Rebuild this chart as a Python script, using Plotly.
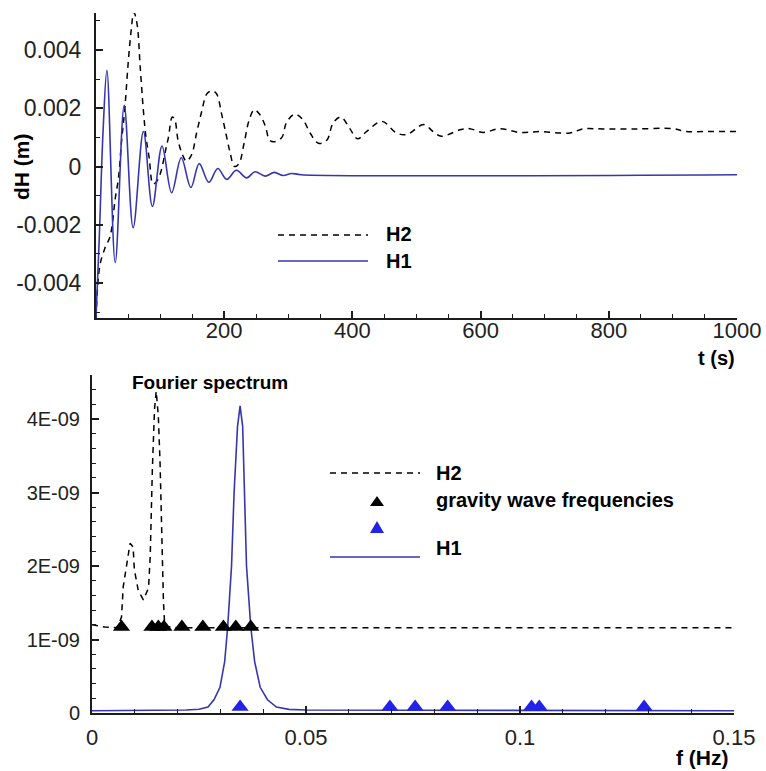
import plotly.graph_objects as go

# ---- water-level response at the two gauges (time in s, dH in m) ----
t_h1 = [0, 5, 11, 17, 30, 44, 58, 74, 88, 103, 118, 133, 148, 161, 176, 190,
        204, 219, 235, 248, 264, 278, 292, 305, 320, 1000]
dh_h1 = [-0.0052, -0.0025, 0.0012, 0.0033, -0.0033, 0.0021, -0.0021, 0.0012,
         -0.00137, 0.0007, -0.0009, 0.0003, -0.00072, 0.0001, -0.00054, -0.00007,
         -0.00044, -0.00013, -0.00039, -0.00018, -0.00033, -0.0002, -0.00031,
         -0.00024, -0.00028, -0.00028]

t_h2 = [0, 6, 14, 22, 30, 35, 40, 45, 50, 55, 59, 64, 69, 74, 78, 83, 89, 95,
        101, 108, 113, 119, 123, 128, 135, 141, 149, 157, 165, 173, 181, 188,
        196, 203, 209, 216, 223, 231, 239, 247, 255, 264, 271, 278, 290, 297,
        310, 323, 334, 347, 360, 370, 382, 396, 408, 422, 446, 469, 485, 511,
        526, 539, 568, 583, 604, 630, 661, 693, 739, 760, 791, 843, 900, 921,
        947, 1000]
dh_h2 = [-0.0052, -0.0034, -0.0028, -0.0024, -0.0011, -0.0004, 0.0009, 0.0020,
         0.0035, 0.0047, 0.0053, 0.0049, 0.0034, 0.0019, 0.0010, 0.0003, -0.0006,
         -0.0005, -0.0002, 0.0005, 0.0010, 0.0017, 0.0016, 0.0009, 0.0004,
         0.00018, 0.0004, 0.00116, 0.0019, 0.0025, 0.0026, 0.0025, 0.0018,
         0.0011, 0.0005, 0.0, 0.0001, 0.0008, 0.0016, 0.00195, 0.0018, 0.0014,
         0.0009, 0.00085, 0.0010, 0.0015, 0.0018, 0.0016, 0.00115, 0.0008,
         0.0009, 0.0015, 0.0017, 0.0013, 0.00095, 0.0012, 0.00155, 0.00115,
         0.0011, 0.00144, 0.0012, 0.00104, 0.00126, 0.0013, 0.00117, 0.0013,
         0.00117, 0.0012, 0.00115, 0.00129, 0.00129, 0.00129, 0.0013, 0.0012,
         0.0012, 0.0012]

# ---- Fourier spectra (f in Hz) ----
f_h2 = [0, 0.003, 0.006, 0.0069, 0.0073, 0.0081, 0.0089, 0.0096, 0.0099,
        0.0108, 0.012, 0.0132, 0.0136, 0.0141, 0.0146, 0.015, 0.0155, 0.0159,
        0.0163, 0.0167, 0.0170, 0.02, 0.15]
s_h2 = [1.2e-9, 1.17e-9, 1.16e-9, 1.31e-9, 1.72e-9, 2.0e-9, 2.31e-9, 2.26e-9,
        1.95e-9, 1.67e-9, 1.54e-9, 1.70e-9, 2.13e-9, 3.31e-9, 4.13e-9, 4.38e-9,
        4.04e-9, 3.41e-9, 2.4e-9, 1.5e-9, 1.18e-9, 1.16e-9, 1.16e-9]

f_h1 = [0, 0.015, 0.022, 0.025, 0.0271, 0.0285, 0.0299, 0.0310, 0.0317,
        0.0326, 0.0332, 0.0340, 0.0346, 0.0352, 0.0357, 0.0361, 0.0371, 0.0380,
        0.0393, 0.041, 0.0431, 0.046, 0.05, 0.1, 0.15]
s_h1 = [0.03e-9, 0.03e-9, 0.04e-9, 0.05e-9, 0.08e-9, 0.18e-9, 0.35e-9,
        0.7e-9, 1.17e-9, 2.0e-9, 3.0e-9, 3.9e-9, 4.18e-9, 3.9e-9, 3.0e-9,
        2.0e-9, 1.17e-9, 0.7e-9, 0.35e-9, 0.18e-9, 0.08e-9, 0.05e-9, 0.04e-9,
        0.03e-9, 0.03e-9]

# gravity wave frequencies (markers)
gw_f_black = [0.0069, 0.0140, 0.0155, 0.0168, 0.0210, 0.0259, 0.0307, 0.0336, 0.0371]
gw_y_black = [1.17e-9] * len(gw_f_black)
gw_f_blue = [0.0346, 0.0696, 0.0755, 0.0831, 0.1027, 0.1045, 0.129]
gw_y_blue = [0.08e-9] * len(gw_f_blue)

# tick labels
t_ticks = [0, 200, 400, 600, 800, 1000]
t_ticktext = ["", "200", "400", "600", "800", "1000"]
dh_ticks = [-0.004, -0.002, 0, 0.002, 0.004]
dh_ticktext = ["-0.004", "-0.002", "0", "0.002", "0.004"]
f_ticks = [0, 0.05, 0.1, 0.15]
f_ticktext = ["0", "0.05", "0.1", "0.15"]
s_ticks = [0, 1e-9, 2e-9, 3e-9, 4e-9]
s_ticktext = ["0", "1E-09", "2E-09", "3E-09", "4E-09"]

W, H = 766, 771
FONT = "Liberation Sans, Arial, sans-serif"
BLUE_LINE = "#3636b0"
BLUE_MARK = "#2323e8"
AXIS = "#1c1c1c"
DASH = "6px,5px"


def px(x):
    return x / W


def py(y):
    return 1 - y / H


fig = go.Figure()

fig.add_trace(go.Scatter(x=t_h2, y=dh_h2, mode="lines", name="H2",
                         line=dict(color="black", width=1.5, dash=DASH, shape="spline",
                                   smoothing=1.0),
                         xaxis="x", yaxis="y"))
fig.add_trace(go.Scatter(x=t_h1, y=dh_h1, mode="lines", name="H1",
                         line=dict(color=BLUE_LINE, width=1.6, shape="spline", smoothing=1.0),
                         xaxis="x", yaxis="y"))

fig.add_trace(go.Scatter(x=f_h2, y=s_h2, mode="lines", name="H2",
                         line=dict(color="black", width=1.5, dash=DASH),
                         xaxis="x2", yaxis="y2"))
fig.add_trace(go.Scatter(x=f_h1, y=s_h1, mode="lines", name="H1",
                         line=dict(color=BLUE_LINE, width=1.6),
                         xaxis="x2", yaxis="y2"))
fig.add_trace(go.Scatter(x=gw_f_black, y=gw_y_black, mode="markers",
                         name="gravity wave frequencies",
                         marker=dict(symbol="triangle-up", size=15, color="black"),
                         xaxis="x2", yaxis="y2"))
fig.add_trace(go.Scatter(x=gw_f_blue, y=gw_y_blue, mode="markers", name="",
                         marker=dict(symbol="triangle-up", size=15, color=BLUE_MARK),
                         xaxis="x2", yaxis="y2"))


def axis_style(size):
    return dict(showline=True, linecolor=AXIS, linewidth=2, ticks="inside",
                ticklen=7, tickwidth=1.5, tickcolor=AXIS, showgrid=False,
                zeroline=False, automargin=False,
                tickfont=dict(family=FONT, size=size, color="#222"))


def minor(step):
    return dict(tickmode="linear", tick0=0, dtick=step, ticks="inside",
                ticklen=4, tickwidth=1, tickcolor=AXIS)


fig.update_layout(
    width=W, height=H,
    margin=dict(l=0, r=0, t=0, b=0, autoexpand=False),
    paper_bgcolor="white", plot_bgcolor="white",
    showlegend=False,
    xaxis=dict(domain=[px(96), px(737)], range=[0, 1000], anchor="y",
               tickmode="array", tickvals=t_ticks, ticktext=t_ticktext,
               minor=minor(50), ticklabelstandoff=-8, **axis_style(22)),
    yaxis=dict(domain=[py(318), py(13)], range=[-0.0052, 0.00527], anchor="x",
               tickmode="array", tickvals=dh_ticks, ticktext=dh_ticktext,
               minor=minor(0.001), ticklabelstandoff=8, **axis_style(23)),
    xaxis2=dict(domain=[px(92), px(734)], range=[0, 0.15], anchor="y2",
                tickmode="array", tickvals=f_ticks, ticktext=f_ticktext,
                minor=minor(0.01), ticklabelstandoff=4, **axis_style(22)),
    yaxis2=dict(domain=[py(713), py(375)], range=[0, 4.6e-9], anchor="x2",
                tickmode="array", tickvals=s_ticks, ticktext=s_ticktext,
                minor=minor(2e-10), ticklabelstandoff=6, **axis_style(20)),
)

bold = dict(family=FONT, size=20, color="black")

annotations = [
    dict(text="<b>dH (m)</b>", x=px(21), y=py(167), textangle=-90,
         font=dict(family=FONT, size=21, color="black")),
    dict(text="<b>t (s)</b>", x=px(716), y=py(358), font=dict(family=FONT, size=20, color="black")),
    dict(text="<b>f (Hz)</b>", x=px(702), y=py(757), font=dict(family=FONT, size=21, color="black")),
    dict(text="<b>Fourier spectrum</b>", x=px(130), y=py(382), xanchor="left",
         font=dict(family=FONT, size=19, color="black")),
    # legend, upper panel
    dict(text="<b>H2</b>", x=px(384), y=py(234), xanchor="left", font=bold),
    dict(text="<b>H1</b>", x=px(384), y=py(261), xanchor="left", font=bold),
    # legend, lower panel
    dict(text="<b>H2</b>", x=px(434), y=py(473), xanchor="left", font=bold),
    dict(text="<b>gravity wave frequencies</b>", x=px(434), y=py(500), xanchor="left",
         font=bold),
    dict(text="<b>H1</b>", x=px(434), y=py(548), xanchor="left", font=bold),
]
for a in annotations:
    a.update(xref="paper", yref="paper", showarrow=False, yanchor="middle")
    a.setdefault("xanchor", "center")
fig.update_layout(annotations=annotations)


def tri(cx, cy, w, h, color):
    x0, x1 = px(cx - w / 2), px(cx + w / 2)
    yb, yt = py(cy + h / 2), py(cy - h / 2)
    return dict(type="path", xref="paper", yref="paper",
                path=f"M {x0},{yb} L {x1},{yb} L {px(cx)},{yt} Z",
                fillcolor=color, line=dict(color=color, width=0))


shapes = [
    dict(type="line", xref="paper", yref="paper", x0=px(278), x1=px(368),
         y0=py(235), y1=py(235), line=dict(color="black", width=1.5, dash=DASH)),
    dict(type="line", xref="paper", yref="paper", x0=px(278), x1=px(368),
         y0=py(261), y1=py(261), line=dict(color=BLUE_LINE, width=1.6)),
    dict(type="line", xref="paper", yref="paper", x0=px(330), x1=px(420),
         y0=py(473), y1=py(473), line=dict(color="black", width=1.5, dash=DASH)),
    dict(type="line", xref="paper", yref="paper", x0=px(330), x1=px(420),
         y0=py(557), y1=py(557), line=dict(color=BLUE_LINE, width=1.6)),
    tri(377, 501, 14, 10, "black"),
    tri(377, 527, 14, 12, BLUE_MARK),
]
fig.update_layout(shapes=shapes)

fig.write_html("out.html")
